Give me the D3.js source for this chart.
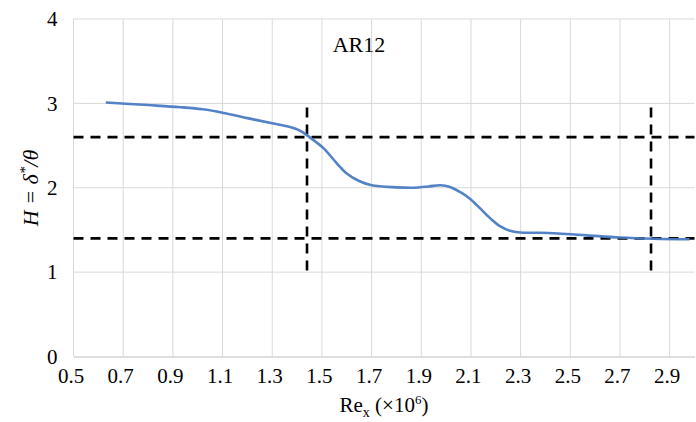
<!DOCTYPE html>
<html>
<head>
<meta charset="utf-8">
<script src="https://cdn.jsdelivr.net/npm/d3@7"></script>
</head>
<body style="margin:0;background:#fff">
<svg id="chart" width="696" height="422" style="font-family:'Liberation Serif'">
<text id="title" x="359" y="52" text-anchor="middle" style="font-family:'Liberation Serif';font-size:22px">AR12</text>
</svg>
<script>
	// values
	var reX = [0.63, 0.80, 0.93, 1.02, 1.10, 1.20, 1.30, 1.372, 1.41, 1.45, 1.506, 1.56, 1.60, 1.65, 1.70, 1.80, 1.87, 1.93, 1.976, 2.016, 2.056, 2.096, 2.137, 2.177, 2.217, 2.257, 2.298, 2.378, 2.45, 2.566, 2.70, 2.834, 2.98];
	var H   = [3.01, 2.98, 2.955, 2.93, 2.89, 2.825, 2.765, 2.72, 2.68, 2.60, 2.47, 2.29, 2.17, 2.08, 2.03, 2.005, 2.00, 2.015, 2.03, 2.01, 1.95, 1.87, 1.755, 1.64, 1.545, 1.49, 1.47, 1.467, 1.458, 1.436, 1.41, 1.396, 1.39];
	var xTicks = [0.5, 0.7, 0.9, 1.1, 1.3, 1.5, 1.7, 1.9, 2.1, 2.3, 2.5, 2.7, 2.9];
	var yTicks = [0, 1, 2, 3, 4];
	var hLines = [2.6, 1.4];
	var vLines = [1.44, 2.825];
	var vRange = [1.0, 2.95];

	var svg = d3.select('#chart');
	var x = d3.scaleLinear().domain([0.5, 3.0]).range([73.5, 694.5]);
	var y = d3.scaleLinear().domain([0, 4]).range([356.5, 19]);

	// grid
	svg.insert('g', '#title').selectAll('line').data(xTicks).enter().append('line')
		.attr('x1', function(d) { return x(d); }).attr('x2', function(d) { return x(d); })
		.attr('y1', y(0)).attr('y2', y(4))
		.attr('stroke', '#d9d9d9').attr('stroke-width', 1);
	svg.insert('g', '#title').selectAll('line').data(yTicks.slice(1)).enter().append('line')
		.attr('x1', x(0.5)).attr('x2', x(3.0))
		.attr('y1', function(d) { return y(d); }).attr('y2', function(d) { return y(d); })
		.attr('stroke', '#d9d9d9').attr('stroke-width', 1);

	// axes via d3 axis, then restyled
	var xAxis = svg.append('g').attr('transform', 'translate(0,' + y(0) + ')')
		.call(d3.axisBottom(x).tickValues(xTicks).tickSize(0).tickPadding(12).tickFormat(d3.format('.1f')));
	xAxis.select('.domain').attr('stroke', '#bfbfbf').attr('stroke-width', 1.2);
	xAxis.selectAll('text').attr('dx', -3);

	var yAxis = svg.append('g').attr('transform', 'translate(' + x(0.5) + ',0)')
		.call(d3.axisLeft(y).tickValues(yTicks).tickSize(0).tickPadding(16).tickFormat(d3.format('d')));
	yAxis.select('.domain').remove();
	svg.selectAll('g').attr('font-family', null).attr('font-size', null);
	xAxis.selectAll('.tick text').attr('style', "font-family:'Times New Roman';font-size:21px").attr('fill', '#000');
	yAxis.selectAll('.tick text').attr('style', 'font-family:serif;font-size:21px').attr('fill', '#000');

	// dashed guide lines
	svg.append('g').selectAll('line').data(hLines).enter().append('line')
		.attr('x1', x(0.5)).attr('x2', x(3.0))
		.attr('y1', function(d) { return y(d); }).attr('y2', function(d) { return y(d); })
		.attr('stroke', '#000').attr('stroke-width', 2.6).attr('stroke-dasharray', '10,7');
	svg.append('g').selectAll('line').data(vLines).enter().append('line')
		.attr('x1', function(d) { return x(d); }).attr('x2', function(d) { return x(d); })
		.attr('y1', y(vRange[1])).attr('y2', y(vRange[0]))
		.attr('stroke', '#000').attr('stroke-width', 2.6).attr('stroke-dasharray', '10,7');

	// the curve
	var line = d3.line()
		.x(function(d, i) { return x(reX[i]); })
		.y(function(d) { return y(d); })
		.curve(d3.curveCatmullRom.alpha(0.5));
	svg.append('path').datum(H)
		.attr('d', line)
		.attr('fill', 'none').attr('stroke', '#4a7cc3').attr('stroke-width', 2.6)
		.attr('stroke-opacity', 0.95);

	// axis titles
	var xt = svg.append('text').attr('x', 384).attr('y', 412).attr('text-anchor', 'middle')
		.style('font-size', '21px');
	xt.append('tspan').text('Re');
	xt.append('tspan').style('font-size', '14px').attr('dy', 5).text('x');
	xt.append('tspan').attr('dy', -5).text(' (×10');
	xt.append('tspan').style('font-size', '13px').attr('dy', -8).text('6');
	xt.append('tspan').attr('dy', 8).text(')');

	var yt = svg.append('text').attr('transform', 'translate(38,188) rotate(-90)')
		.attr('text-anchor', 'middle').style('font-size', '22px').style('font-style', 'italic');
	yt.append('tspan').text('H = δ');
	yt.append('tspan').style('font-size', '15px').attr('dy', -8).text('*');
	yt.append('tspan').attr('dy', 8).text('/θ');
</script>
</body>
</html>
